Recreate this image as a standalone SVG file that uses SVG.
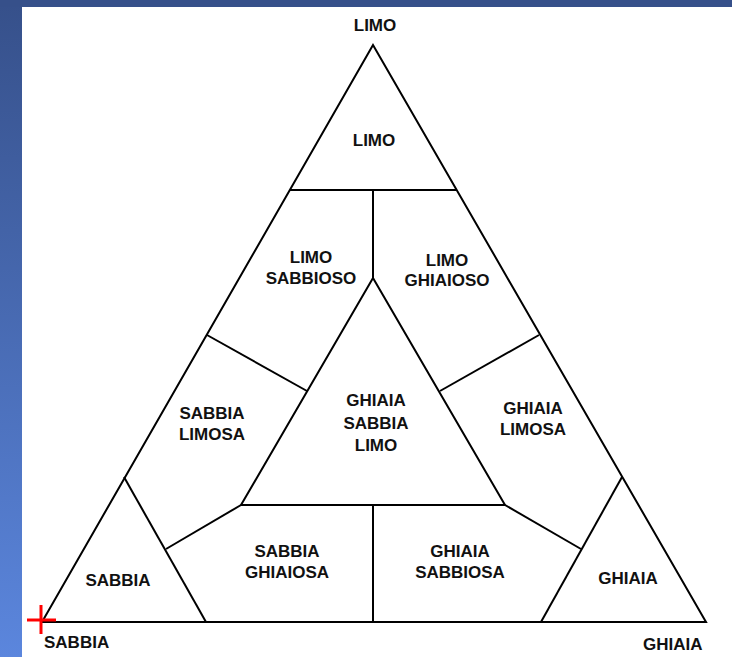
<svg xmlns="http://www.w3.org/2000/svg" width="732" height="657" viewBox="0 0 732 657">
  <defs>
    <linearGradient id="bg" x1="0" y1="0" x2="0" y2="1">
      <stop offset="0" stop-color="#36508A"/>
      <stop offset="1" stop-color="#5B86DD"/>
    </linearGradient>
    <style>
      .ln { stroke: #000; stroke-width: 2; fill: none; stroke-linejoin: miter; }
      .t { font-family: "Liberation Sans", Arial, sans-serif; font-weight: bold; font-size: 17px; fill: #111; text-anchor: middle; }
      .ts { font-family: "Liberation Sans", Arial, sans-serif; font-weight: bold; font-size: 17px; fill: #111; }
    </style>
  </defs>
  <rect x="0" y="0" width="732" height="657" fill="url(#bg)"/>
  <rect x="0" y="0" width="732" height="7" fill="#36508A"/>
  <rect x="22" y="7" width="710" height="650" fill="#fff"/>

  <g id="connectors">
    <polygon class="ln" points="373,45 42,622 706,622"/>
    <line class="ln" x1="290" y1="190" x2="456" y2="190"/>
    <line class="ln" x1="373" y1="190" x2="373" y2="278"/>
    <polygon class="ln" points="373,278 241,505 505,505"/>
    <line class="ln" x1="207" y1="335" x2="307" y2="391"/>
    <line class="ln" x1="539" y1="335" x2="440" y2="391"/>
    <line class="ln" x1="124" y1="477" x2="206" y2="622"/>
    <line class="ln" x1="622" y1="477" x2="541" y2="622"/>
    <line class="ln" x1="241" y1="505" x2="166" y2="549"/>
    <line class="ln" x1="505" y1="505" x2="581" y2="549"/>
    <line class="ln" x1="373" y1="505" x2="373" y2="622"/>
  </g>

  <g id="vertex-limo"><text class="t" x="375" y="31">LIMO</text></g>
  <g id="vertex-sabbia"><text class="ts" x="44" y="648">SABBIA</text></g>
  <g id="vertex-ghiaia"><text class="ts" x="643" y="650">GHIAIA</text></g>

  <g id="limo"><text class="t" x="374" y="146">LIMO</text></g>
  <g id="limo-sabbioso"><text class="t" x="311" y="263">LIMO</text><text class="t" x="311" y="284">SABBIOSO</text></g>
  <g id="limo-ghiaioso"><text class="t" x="447" y="266">LIMO</text><text class="t" x="447" y="286">GHIAIOSO</text></g>
  <g id="sabbia-limosa"><text class="t" x="212" y="419">SABBIA</text><text class="t" x="212" y="440">LIMOSA</text></g>
  <g id="ghiaia-limosa"><text class="t" x="533" y="414">GHIAIA</text><text class="t" x="533" y="435">LIMOSA</text></g>
  <g id="ghiaia-sabbia-limo"><text class="t" x="376" y="406">GHIAIA</text><text class="t" x="376" y="429">SABBIA</text><text class="t" x="376" y="451">LIMO</text></g>
  <g id="sabbia-ghiaiosa"><text class="t" x="287" y="557">SABBIA</text><text class="t" x="287" y="578">GHIAIOSA</text></g>
  <g id="ghiaia-sabbiosa"><text class="t" x="460" y="557">GHIAIA</text><text class="t" x="460" y="578">SABBIOSA</text></g>
  <g id="sabbia"><text class="t" x="118" y="586">SABBIA</text></g>
  <g id="ghiaia"><text class="t" x="628" y="584">GHIAIA</text></g>

  <g id="marker">
    <line x1="27" y1="620" x2="56" y2="620" stroke="#f00" stroke-width="3"/>
    <line x1="41" y1="605" x2="41" y2="634" stroke="#f00" stroke-width="3"/>
  </g>
</svg>
